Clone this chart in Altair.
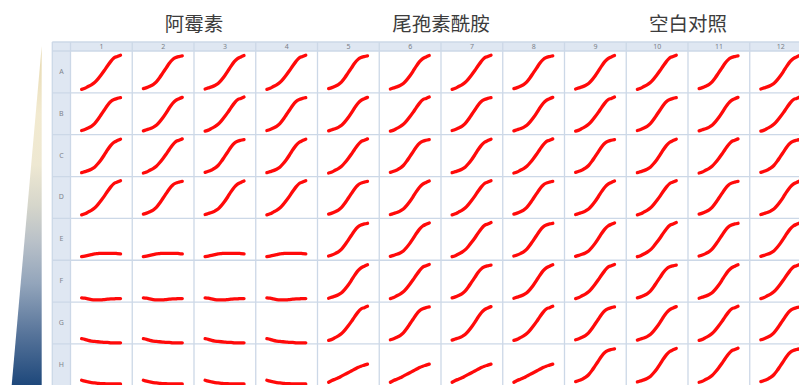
import altair as alt
import pandas as pd

# ---- plate labels -------------------------------------------------------
ROW_LABELS = ["A", "B", "C", "D", "E", "F", "G", "H"]
COL_LABELS = ["1", "2", "3", "4", "5", "6", "7", "8", "9", "10", "11", "12"]
GROUP_TITLES = ["阿霉素", "尾孢素酰胺", "空白对照"]
GROUP_SPANS = [(1, 4), (5, 8), (9, 12)]

# ---- growth curves (relative OD, 13 readings per well) -------------------
TIME_H = [0, 2, 4, 6, 8, 10, 12, 14, 16, 18, 20, 22, 24]
GROWTH_A = [0.00, 0.03, 0.08, 0.13, 0.20, 0.30, 0.42, 0.55, 0.69, 0.82, 0.92, 0.96, 1.00]
GROWTH_B = [0.02, 0.05, 0.09, 0.14, 0.22, 0.34, 0.48, 0.62, 0.76, 0.87, 0.93, 0.96, 0.98]
GROWTH_C = [0.01, 0.04, 0.07, 0.11, 0.17, 0.27, 0.39, 0.53, 0.68, 0.81, 0.90, 0.95, 0.99]
LOW_RISE = [0.00, 0.02, 0.04, 0.06, 0.08, 0.09, 0.10, 0.10, 0.10, 0.10, 0.10, 0.09, 0.08]
FLAT = [0.02, 0.01, -0.01, -0.03, -0.04, -0.04, -0.04, -0.03, -0.02, -0.01, -0.01, 0.00, 0.00]
DECLINE = [0.05, 0.03, 0.00, -0.02, -0.03, -0.04, -0.05, -0.06, -0.06, -0.07, -0.07, -0.07, -0.07]
DECLINE_H = [0.06, 0.03, 0.01, -0.01, -0.02, -0.03, -0.04, -0.04, -0.05, -0.05, -0.05, -0.05, -0.05]
SLOW_RISE = [0.00, 0.05, 0.09, 0.13, 0.18, 0.23, 0.28, 0.33, 0.38, 0.43, 0.47, 0.50, 0.53]

CURVES = {
    "a": GROWTH_A, "b": GROWTH_B, "c": GROWTH_C, "e": LOW_RISE,
    "f": FLAT, "g": DECLINE, "h": DECLINE_H, "s": SLOW_RISE,
}

# which curve each well shows, one string per plate row
PLATE_LAYOUT = [
    "abcabcabcabc",
    "bcabcabcabca",
    "cabcabcabcab",
    "abcabcabcabc",
    "eeeebcabcabc",
    "ffffcabcabca",
    "ggggabcabcab",
    "hhhhssssbcab",
]

# ---- page geometry (pixels) -----------------------------------------------
W, H = 799, 385
CELL_W, CELL_H = 61.75, 41.85
GRID_LEFT, GRID_TOP = 70.5, 51.0
STRIP_LEFT, STRIP_TOP = 52.3, 42.0


def ux(px):
    return (px - GRID_LEFT) / CELL_W


def uy(py):
    return (py - GRID_TOP) / CELL_H


X_DOMAIN = [ux(0), ux(W)]
Y_DOMAIN = [uy(0), uy(H)]
x_scale = alt.Scale(domain=X_DOMAIN, nice=False, zero=False)
y_scale = alt.Scale(domain=Y_DOMAIN, nice=False, zero=False, reverse=True)

n_rows, n_cols = len(ROW_LABELS), len(COL_LABELS)
strip_l, strip_t = ux(STRIP_LEFT), uy(STRIP_TOP)

# curve placement inside a well
T_LEFT, T_RIGHT = 0.18, 0.81
V_BOTTOM, V_TOP = 0.915, 0.10

rows = []
for i, code_row in enumerate(PLATE_LAYOUT):
    for j, code in enumerate(code_row):
        vals = CURVES[code]
        t0, t1 = TIME_H[0], TIME_H[-1]
        for t, v in zip(TIME_H, vals):
            rows.append({
                "well": f"{ROW_LABELS[i]}{COL_LABELS[j]}",
                "u": j + T_LEFT + (t - t0) / (t1 - t0) * (T_RIGHT - T_LEFT),
                "r": i + V_BOTTOM - v * (V_BOTTOM - V_TOP),
                "t": t,
            })
curves_df = pd.DataFrame(rows)

X = alt.X("u:Q", scale=x_scale, axis=None)
Y = alt.Y("r:Q", scale=y_scale, axis=None)

# header strips
strips_df = pd.DataFrame([
    {"u": strip_l, "u2": n_cols, "r": strip_t, "r2": 0.0},
    {"u": strip_l, "u2": 0.0, "r": strip_t, "r2": n_rows + 0.5},
])
strips = alt.Chart(strips_df).mark_rect(color="#dfe7f2", clip=True).encode(
    x=X, x2="u2:Q", y=Y, y2="r2:Q"
)

# grid lines
vlines_df = pd.DataFrame(
    [{"u": strip_l, "r": strip_t, "r2": n_rows + 0.5}]
    + [{"u": float(k), "r": strip_t, "r2": n_rows + 0.5} for k in range(n_cols + 1)]
)
hlines_df = pd.DataFrame(
    [{"r": strip_t, "u": strip_l, "u2": n_cols + 0.5}]
    + [{"r": float(k), "u": strip_l, "u2": n_cols + 0.5} for k in range(n_rows + 1)]
)
vlines = alt.Chart(vlines_df).mark_rule(color="#ccd8e7", strokeWidth=1.3, clip=True).encode(
    x=X, y=Y, y2="r2:Q"
)
hlines = alt.Chart(hlines_df).mark_rule(color="#ccd8e7", strokeWidth=1.3, clip=True).encode(
    y=Y, x=X, x2="u2:Q"
)

# column numbers and row letters
col_df = pd.DataFrame({"label": COL_LABELS, "u": [k + 0.5 for k in range(n_cols)],
                       "r": [strip_t / 2] * n_cols})
row_df = pd.DataFrame({"label": ROW_LABELS, "u": [strip_l / 2] * n_rows,
                       "r": [k + 0.5 for k in range(n_rows)]})
col_text = alt.Chart(col_df).mark_text(
    font="Noto Sans", fontSize=7, color="#7a7f88", baseline="middle", align="center", clip=True
).encode(x=X, y=Y, text="label:N")
row_text = alt.Chart(row_df).mark_text(
    font="Noto Sans", fontSize=7, color="#80858d", baseline="middle", align="center"
).encode(x=X, y=Y, text="label:N")

# group titles
title_df = pd.DataFrame({
    "label": GROUP_TITLES,
    "u": [(a - 1 + b) / 2 for a, b in GROUP_SPANS],
    "r": [uy(24.5)] * len(GROUP_TITLES),
})
titles = alt.Chart(title_df).mark_text(
    font="Noto Sans CJK SC", fontSize=19.5, color="#3c3c3c", baseline="middle", align="center"
).encode(x=X, y=Y, text="label:N")

# concentration wedge on the left
wedge_df = pd.DataFrame({
    "r": [uy(46.0), uy(H)],
    "u": [ux(41.7), ux(11.7)],
    "u2": [ux(41.7), ux(41.7)],
})
wedge_fill = alt.Gradient(
    gradient="linear",
    x1=0, x2=0, y1=0, y2=1,
    stops=[
        alt.GradientStop(offset=0.0, color="#e6d8ae"),
        alt.GradientStop(offset=0.2, color="#f2ead0"),
        alt.GradientStop(offset=0.35, color="#eee8d2"),
        alt.GradientStop(offset=0.47, color="#d6d6cb"),
        alt.GradientStop(offset=0.58, color="#b8c0c8"),
        alt.GradientStop(offset=0.7, color="#93a5bb"),
        alt.GradientStop(offset=0.85, color="#57749a"),
        alt.GradientStop(offset=1.0, color="#1e487b"),
    ],
)
wedge = alt.Chart(wedge_df).mark_area(orient="horizontal", fill=wedge_fill, clip=True).encode(
    y=Y, x=X, x2="u2:Q"
)

# well growth curves
lines = alt.Chart(curves_df).mark_line(
    color="#ff0a0a", strokeWidth=3.3, strokeCap="round", strokeJoin="round",
    interpolate="monotone", clip=True,
).encode(x=X, y=Y, detail="well:N", order="t:Q")

chart = alt.layer(
    wedge, strips, vlines, hlines, col_text, row_text, titles, lines
).properties(
    width=W, height=H, padding=0, autosize=alt.AutoSizeParams(type="none"),
    background="#ffffff",
).configure_view(stroke=None)

chart.save("out.html", embed_options={"renderer": "svg", "actions": False})
